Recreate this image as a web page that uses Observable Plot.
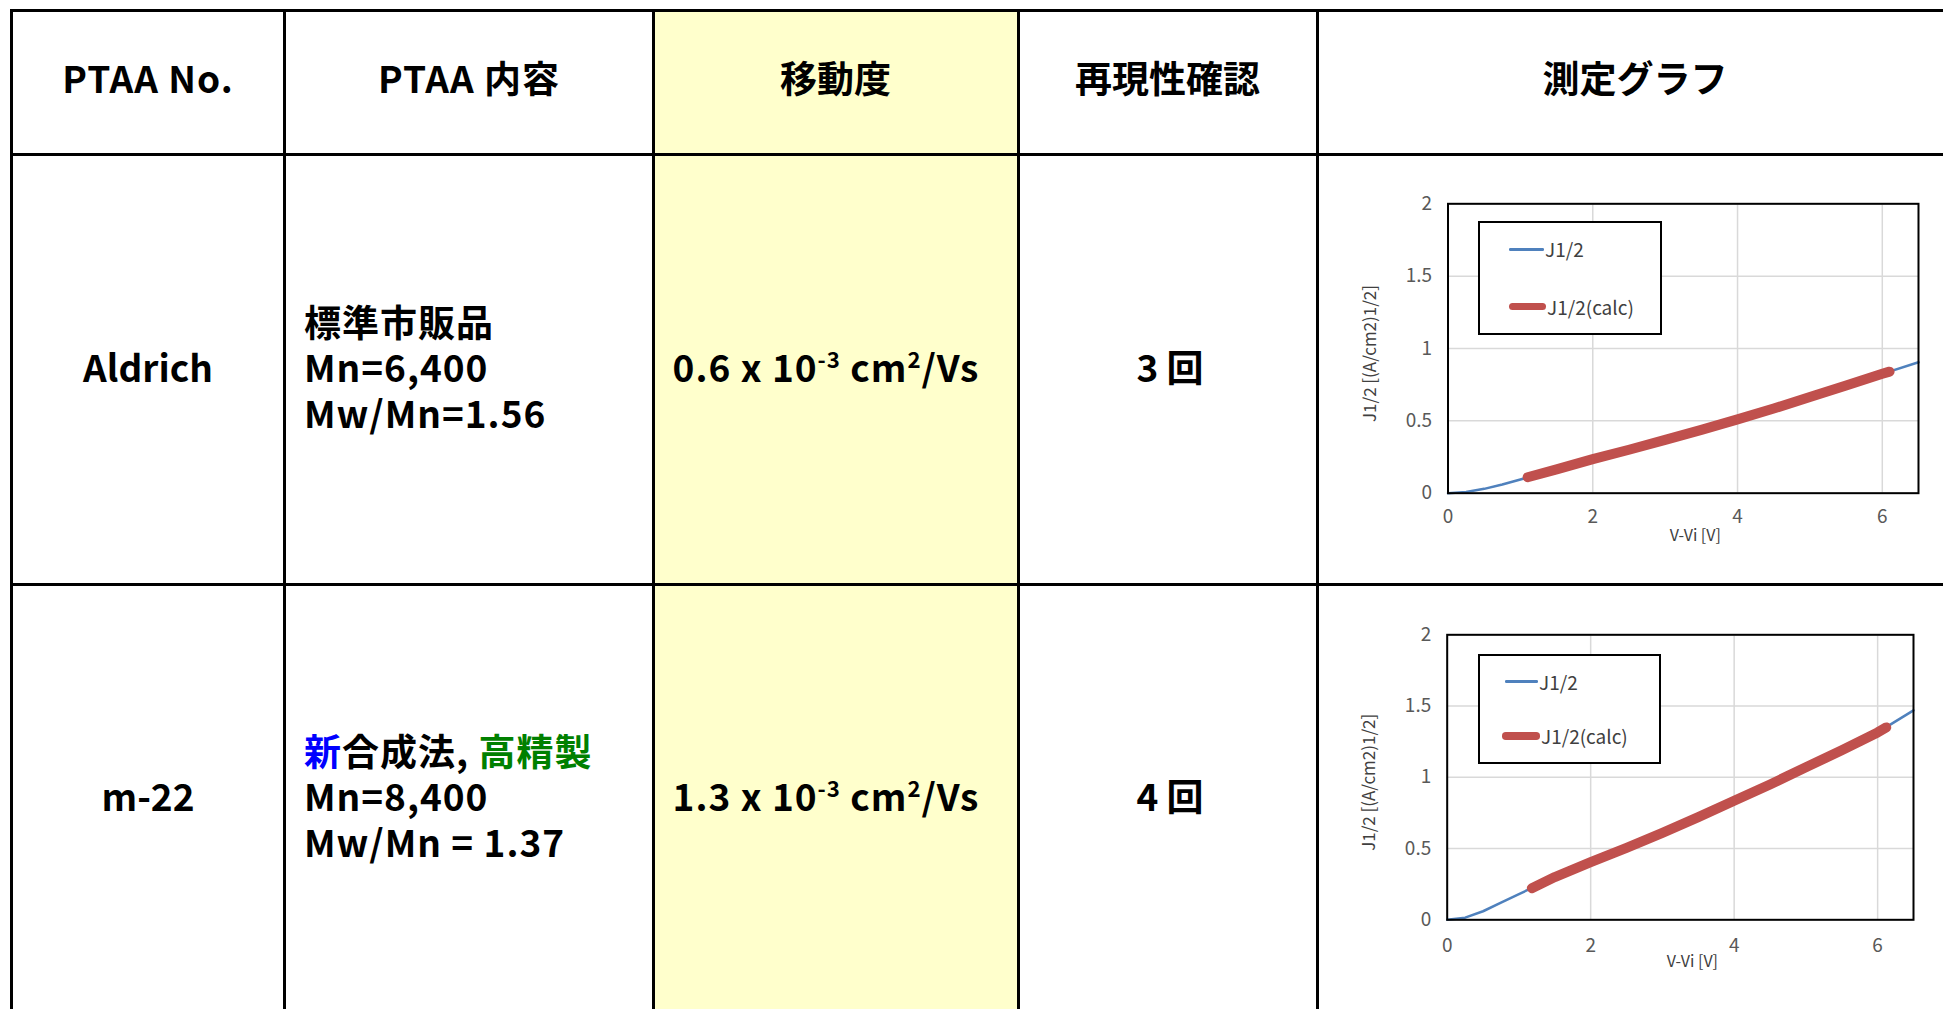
<!DOCTYPE html>
<html>
<head>
<meta charset="utf-8">
<script src="https://cdn.jsdelivr.net/npm/d3@7"></script>
<script src="https://cdn.jsdelivr.net/npm/@observablehq/plot@0.6"></script>
<style>
  html, body { margin: 0; padding: 0; background: #fff; }
  #page { position: relative; width: 1943px; height: 1009px; overflow: hidden;
          font-family: "Noto Sans CJK JP", sans-serif; }
  .abs { position: absolute; }
  .cell { position: absolute; font-weight: 700; font-size: 37px; color: #000; white-space: nowrap; }
  .cell sup { font-size: 0.6em; vertical-align: 0; position: relative; top: -0.62em; }
  .wide { letter-spacing: 1px; }
  .legend { position: absolute; box-sizing: border-box; border: 2px solid #000; background: #fff; }
  .legend span { position: absolute; font-size: 19px; color: #404040; line-height: 20px; white-space: nowrap; }
</style>
</head>
<body>
<div id="page"></div>
<script>
// ---- table content ----
const headers = ["PTAA No.", "PTAA 内容", "移動度", "再現性確認", "測定グラフ"];
const sampleNames = ["Aldrich", "m-22"];
const noteLines = [
  ["標準市販品", "Mn=6,400", "Mw/Mn=1.56"],
  ["新合成法, 高精製", "Mn=8,400", "Mw/Mn = 1.37"]
];
const noteHighlights = [["新", "#0000ff"], ["高精製", "#008000"]];
const mobility = [0.6, 1.3];          // × 10^-3 cm²/Vs
const mobilityExponent = -3;
const repeatCount = [3, 4];

// ---- J^1/2 vs V-Vi curves ----
const yTitle = "J1/2 [(A/cm2)1/2]";
const xTitle = "V-Vi [V]";
const seriesNames = ["J1/2", "J1/2(calc)"];
const xTicks = [0, 2, 4, 6];
const yTicks = [0, 0.5, 1, 1.5, 2];

const measV = [0, 0.25, 0.5, 0.75, 1.0, 1.5, 2.0, 2.5, 3.0, 3.5, 4.0, 4.5, 5.0, 5.5, 6.0, 6.5];
const measJ_aldrich = [0, 0.008, 0.03, 0.06, 0.095, 0.165, 0.235, 0.30, 0.368, 0.438, 0.51, 0.585, 0.665, 0.745, 0.825, 0.905];
const measJ_m22     = [0, 0.015, 0.06, 0.12, 0.18, 0.30, 0.405, 0.505, 0.61, 0.72, 0.835, 0.95, 1.07, 1.19, 1.315, 1.47];

const calcV_aldrich = [1.1, 1.5, 2.0, 2.5, 3.0, 3.5, 4.0, 4.5, 5.0, 5.5, 6.0, 6.1];
const calcJ_aldrich = [0.11, 0.165, 0.235, 0.30, 0.368, 0.438, 0.51, 0.585, 0.665, 0.745, 0.825, 0.84];
const calcV_m22 = [1.18, 1.5, 2.0, 2.5, 3.0, 3.5, 4.0, 4.5, 5.0, 5.5, 6.0, 6.12];
const calcJ_m22 = [0.222, 0.30, 0.405, 0.505, 0.61, 0.72, 0.835, 0.95, 1.07, 1.19, 1.315, 1.35];

const blue = "#4f81bd", red = "#c0504d";

// ---- layout ----
const page = document.getElementById("page");
const colX = [11.5, 284.5, 653, 1018, 1317, 1965];
const rowY = [10.5, 154, 584, 1014];

function box(styles, cls = "abs") {
  const d = document.createElement("div");
  d.className = cls;
  for (const [k, v] of Object.entries(styles)) d.style[k] = typeof v === "number" ? v + "px" : v;
  page.appendChild(d);
  return d;
}

// highlighted column
box({left: colX[2], top: rowY[0], width: colX[3] - colX[2], height: 1100, background: "#ffffcc"});

// grid lines of the table
for (const y of rowY.slice(0, 3)) box({left: colX[0] - 1.5, top: y - 1.5, width: 2000, height: 3, background: "#000"});
for (const x of colX.slice(0, 5)) box({left: x - 1.5, top: rowY[0] - 1.5, width: 3, height: 1100, background: "#000"});

function centered(html, cx, cy, cls = "cell") {
  const d = box({left: cx - 400, top: cy - 25, width: 800, height: 50, lineHeight: "50px", textAlign: "center"}, cls);
  d.innerHTML = html;
  return d;
}

// header row
const headerCenters = [148, 469, 835.5, 1167.5, 1635];
headers.forEach((h, i) => centered(h, headerCenters[i], 77, i < 2 ? "cell wide" : "cell"));

// body rows
const rowCenters = [366, 795];
sampleNames.forEach((name, r) => {
  const cy = rowCenters[r];
  centered(name, 148, cy);
  // description: three left-aligned lines
  const lh = 45.5;
  noteLines[r].forEach((line, k) => {
    let s = line;
    for (const [word, color] of noteHighlights) s = s.replace(word, `<span style="color:${color}">${word}</span>`);
    const d = box({left: 304, top: cy + (k - 1) * lh - 22, height: 44, lineHeight: "44px"}, "cell wide");
    d.innerHTML = s;
  });
  centered(`${mobility[r].toFixed(1)} x 10<sup>${mobilityExponent}</sup> cm<sup>2</sup>/Vs`, 826, cy, "cell wide");
  centered(`${repeatCount[r]} 回`, 1170, cy);
});

// ---- charts ----
function drawChart({left, top, frame, tickPadX, meas, calc, legend}) {
  const [fl, ft, fr, fb] = frame;
  const marginLeft = fl - left, marginTop = ft - top, marginRight = 20, marginBottom = 70;
  const width = fr + marginRight - left, height = fb + marginBottom - top;
  const plot = Plot.plot({
    width, height, marginLeft, marginTop, marginRight, marginBottom,
    style: {fontFamily: "'Noto Sans CJK JP', sans-serif", fontSize: "19px", color: "#595959", background: "transparent", overflow: "visible"},
    x: {domain: [0, 6.5]},
    y: {domain: [0, 2]},
    marks: [
      Plot.gridX(xTicks, {stroke: "#d9d9d9", strokeOpacity: 1, strokeWidth: 1.5}),
      Plot.gridY(yTicks, {stroke: "#d9d9d9", strokeOpacity: 1, strokeWidth: 1.5}),
      Plot.axisX({ticks: xTicks, tickSize: 0, tickPadding: tickPadX, label: null, fontSize: 19, tickFormat: d => String(d)}),
      Plot.axisY({ticks: yTicks, tickSize: 0, tickPadding: 16, label: null, fontSize: 19, tickFormat: d => String(d)}),
      Plot.line(meas, {x: "v", y: "j", stroke: blue, strokeWidth: 2.5}),
      Plot.line(calc, {x: "v", y: "j", stroke: red, strokeWidth: 10, strokeLinecap: "round"}),
      Plot.frame({stroke: "#000", strokeWidth: 2}),
      Plot.text([yTitle], {frameAnchor: "left", textAnchor: "middle", lineAnchor: "middle", rotate: -90, dx: -77.5, dy: 5, fontSize: 17, fill: "#404040"}),
      Plot.text([xTitle], {frameAnchor: "bottom", textAnchor: "middle", lineAnchor: "middle", dx: 12, dy: 42.5, fontSize: 16, fill: "#404040"})
    ]
  });
  const holder = box({left, top, width, height});
  holder.appendChild(plot);

  // legend box
  const lg = box({left: legend.box[0], top: legend.box[1], width: legend.box[2] - legend.box[0], height: legend.box[3] - legend.box[1]}, "legend");
  seriesNames.forEach((name, i) => {
    const [x0, x1, y] = legend.rows[i];
    const thick = i === 0 ? 2.5 : 7.5;
    const sw = document.createElement("div");
    Object.assign(sw.style, {position: "absolute", left: (x0 - legend.box[0] - 2) + "px", top: (y - legend.box[1] - 2 - thick / 2) + "px",
      width: (x1 - x0) + "px", height: thick + "px", background: i === 0 ? blue : red, borderRadius: (thick / 2) + "px"});
    lg.appendChild(sw);
    const t = document.createElement("span");
    t.textContent = name;
    Object.assign(t.style, {left: (x1 + 1 - legend.box[0] - 2) + "px", top: (y - legend.box[1] - 2 - 10) + "px"});
    lg.appendChild(t);
  });
}

const toPoints = (vs, js) => vs.map((v, i) => ({v, j: js[i]}));

drawChart({
  left: 1330, top: 170, frame: [1447.5, 203.3, 1918, 492.7], tickPadX: 16,
  meas: toPoints(measV, measJ_aldrich), calc: toPoints(calcV_aldrich, calcJ_aldrich),
  legend: {box: [1478, 220.7, 1661.6, 335], rows: [[1509, 1544, 249.3], [1509, 1546, 306.7]]}
});
drawChart({
  left: 1330, top: 600, frame: [1446.7, 634.3, 1913, 919.3], tickPadX: 19,
  meas: toPoints(measV, measJ_m22), calc: toPoints(calcV_m22, calcJ_m22),
  legend: {box: [1478.2, 654.3, 1660.8, 764], rows: [[1505, 1538, 681.7], [1502, 1540, 736]]}
});
</script>
</body>
</html>
